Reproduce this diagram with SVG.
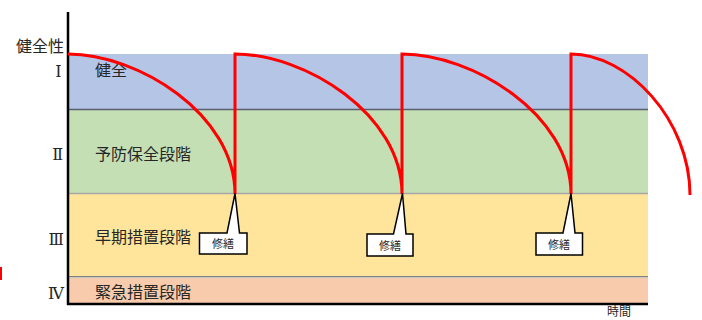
<svg xmlns="http://www.w3.org/2000/svg" width="702" height="320" viewBox="0 0 702 320">
<style>
.lbl{font-family:"Noto Sans CJK JP","Noto Sans CJK SC",sans-serif;font-size:16px;fill:#262626}
.rom{font-family:"DejaVu Serif","Liberation Serif","Noto Sans CJK JP",serif;font-size:16px;fill:#262626;text-anchor:end}
.co{fill:#fff;stroke:#000;stroke-width:1.5;stroke-linejoin:miter}
.cot{font-family:"Noto Sans CJK JP","Noto Sans CJK SC",sans-serif;font-size:11px;fill:#262626;text-anchor:middle}
.curve{fill:none;stroke:#ff0000;stroke-width:3;stroke-linejoin:miter}
.axis{stroke:#000;stroke-width:2.5;fill:none}
</style>
<rect width="702" height="320" fill="#fff"/>
<g id="bands">
  <rect id="band-1" x="68" y="54" width="580" height="56" fill="#b4c5e6"/>
  <rect id="band-2" x="68" y="110" width="580" height="84" fill="#c5dfb5"/>
  <rect id="band-3" x="68" y="194" width="580" height="83" fill="#ffe49b"/>
  <rect id="band-4" x="68" y="277" width="580" height="27" fill="#f7cbac"/>
  <line x1="68" y1="109.5" x2="648" y2="109.5" stroke="#5a5f70" stroke-width="1.5"/>
  <line x1="68" y1="193.5" x2="648" y2="193.5" stroke="#a8a8a8" stroke-width="1.5"/>
  <line x1="68" y1="276.5" x2="648" y2="276.5" stroke="#7f7f7f" stroke-width="1.2"/>
  <line x1="68" y1="277.7" x2="648" y2="277.7" stroke="#c8c8c8" stroke-width="1"/>
</g>
<g id="band-labels">
  <text class="lbl" x="95" y="75.5">健全</text>
  <text class="lbl" x="95" y="160">予防保全段階</text>
  <text class="lbl" x="95" y="243">早期措置段階</text>
  <text class="lbl" x="95" y="298">緊急措置段階</text>
</g>
<g id="axis-labels">
  <text class="lbl" x="64" y="51.5" text-anchor="end">健全性</text>
  <text class="rom" x="61.5" y="76.5">Ⅰ</text>
  <text class="rom" x="63" y="159.5">Ⅱ</text>
  <text class="rom" x="64" y="244.5">Ⅲ</text>
  <text class="rom" x="64" y="298.5">Ⅳ</text>
  <text class="lbl" x="607" y="316" style="font-size:12px">時間</text>
</g>
<g id="axes">
  <line class="axis" x1="68" y1="12" x2="68" y2="305"/>
  <line class="axis" x1="67" y1="304" x2="648" y2="304"/>
</g>
<g id="connectors">
  <path class="curve" d="M68,54 C138,54 235,114 235,194 L235,54 C305,54 402,114 402,194 L402,54 C472,54 571,114 571,194 L571,54 C628,54 690,120 690,195"/>
  <line x1="1" y1="267" x2="1" y2="280" stroke="#ff0000" stroke-width="2"/>
</g>
<g id="callout-1">
  <path class="co" d="M199.5,233 L227,233 L235,193.5 L239.5,233 L247,233 L247,254 L199.5,254 Z"/>
  <text class="cot" x="223" y="248">修繕</text>
</g>
<g id="callout-2">
  <path class="co" d="M367,234 L393.5,234 L402.5,193.5 L406,234 L413,234 L413,256 L367,256 Z"/>
  <text class="cot" x="390" y="249.5">修繕</text>
</g>
<g id="callout-3">
  <path class="co" d="M536,233 L563,233 L571,193.5 L575,233 L582.5,233 L582.5,255 L536,255 Z"/>
  <text class="cot" x="559" y="248.5">修繕</text>
</g>
</svg>
